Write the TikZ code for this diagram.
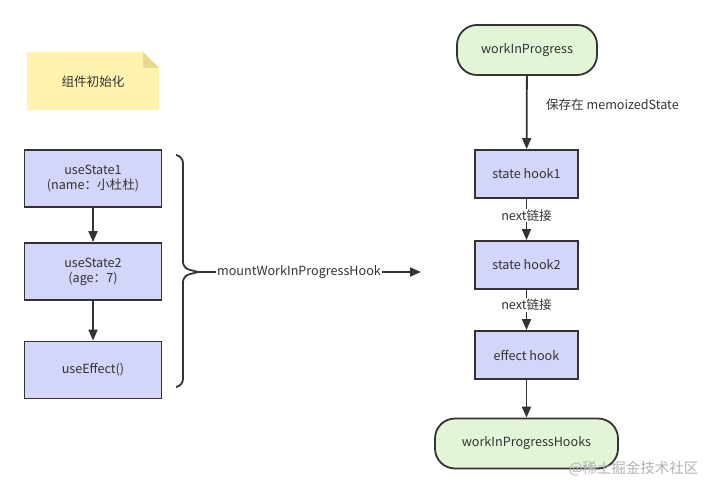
\documentclass[tikz,border=0pt]{standalone}
\usepackage{fontspec}
\setmainfont{Noto Sans CJK SC}
\usetikzlibrary{arrows.meta}
\definecolor{lav}{RGB}{211,214,248}
\definecolor{grn}{RGB}{226,245,214}
\definecolor{yel}{RGB}{255,243,175}
\definecolor{fold}{RGB}{232,218,145}
\definecolor{ink}{RGB}{51,51,51}
\begin{document}
\begin{tikzpicture}[x=1pt,y=-1pt,
  every node/.style={font=\fontsize{12.6}{15}\selectfont, text=ink},
  hookbox/.style={draw=ink, line width=1.8pt, fill=lav, minimum width=103pt, minimum height=48pt, inner sep=0pt, align=center},
  leftbox/.style={hookbox, minimum width=137pt, minimum height=57pt},
  pill/.style={draw=ink, line width=1.8pt, fill=grn, rounded corners=20pt, minimum height=50pt, inner sep=0pt},
  conn/.style={draw=ink, line width=1.8pt, -{Triangle[width=9pt,length=11pt]}},
  lbl/.style={fill=white, inner sep=1pt}
]
\useasboundingbox (0,0) rectangle (714,494);
% note
\fill[yel] (27,52) -- (143,52) -- (159,68) -- (159,110) -- (27,110) -- cycle;
\fill[fold] (143,52) -- (159,68) -- (143,68) -- cycle;
\node (note) at (93,82) {组件初始化};
% left boxes
\node[leftbox] (u1) at (93,178.5) {useState1\\(name：小杜杜)};
\node[leftbox] (u2) at (93,271.5) {useState2\\(age：7)};
\node[leftbox] (ue) at (93,370) {useEffect()};
\draw[conn] (u1) -- (u2);
\draw[conn] (u2) -- (ue);
% brace
\coordinate (tip) at (198,272);
\draw[ink, line width=1.8pt, rounded corners=6pt]
  (176,155) -- (183,157) -- (183,268) -- (tip);
\draw[ink, line width=1.8pt, rounded corners=6pt]
  (tip) -- (183,276) -- (183,385) -- (176,387);
\node[inner sep=1pt] (mount) at (299,272) {mountWorkInProgressHook};
\coordinate (mend) at (421,272);
\draw[ink, line width=1.8pt] (tip) -- (mount);
\draw[conn] (mount) -- (mend);
% right column
\node[pill, minimum width=140pt] (wip) at (527,50) {workInProgress};
\node[hookbox] (h1) at (526.5,174) {state hook1};
\node[hookbox] (h2) at (526.5,265) {state hook2};
\node[hookbox] (eh) at (526.5,355) {effect hook};
\node[pill, minimum width=183pt] (wiph) at (526.5,443.5) {workInProgressHooks};
\draw[conn] (wip) -- (h1) node[pos=0.4, right=15pt] (l0) {保存在 memoizedState};
\draw[conn] (h1) -- (h2) node[pos=0.4, lbl] (l1) {next链接};
\draw[conn] (h2) -- (eh) node[pos=0.38, lbl] (l2) {next链接};
\draw[conn] (eh) -- (wiph);
\node[text=black!30, font=\fontsize{14.5}{16}\selectfont, anchor=east] (wm) at (702,469) {@稀土掘金技术社区};
\end{tikzpicture}
\end{document}
